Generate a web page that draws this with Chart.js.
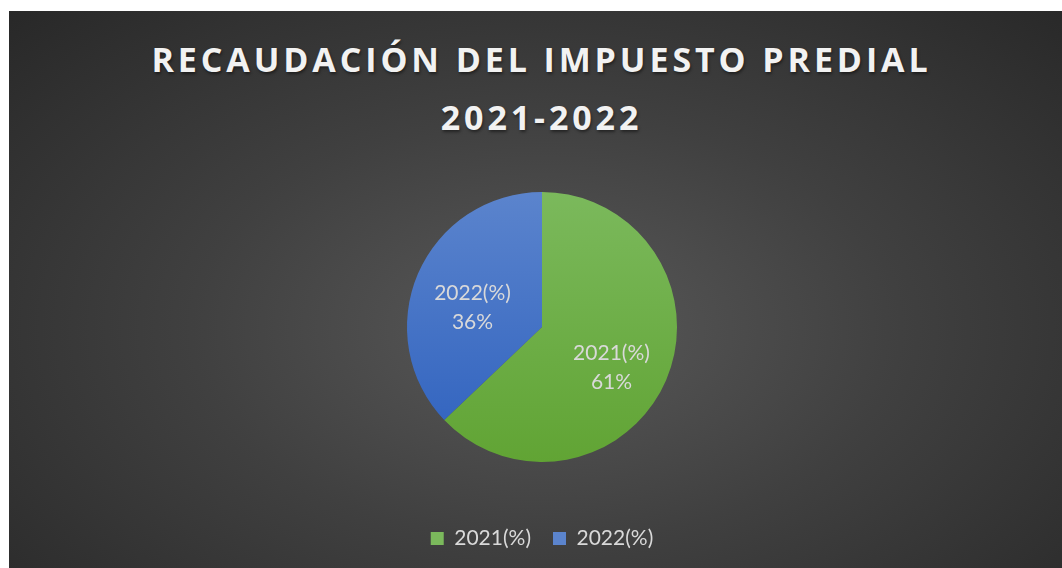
<!DOCTYPE html>
<html>
<head>
<meta charset="utf-8">
<script src="https://cdn.jsdelivr.net/npm/chart.js@4"></script>
<style>
    html, body { margin: 0; padding: 0; background: #ffffff; }
    #frame {
        position: absolute; left: 9px; top: 11px; width: 1053px; height: 557px;
        background: radial-gradient(ellipse 75% 85% at 51% 57%, #595959 0%, #404040 45%, #262626 100%);
        overflow: hidden;
    }
    #title {
        position: absolute; left: 12px; right: 0; top: 19px;
        text-align: center; color: #f2f2f2;
        font: bold 34px "Open Sans", sans-serif; letter-spacing: 3.9px; line-height: 58px;
        text-shadow: 1px 2px 3px rgba(0,0,0,0.45);
    }
    #wrap { position: absolute; left: 0; top: 0; width: 1053px; height: 557px; }
</style>
</head>
<body>
<div id="frame">
    <div id="title">RECAUDACIÓN DEL IMPUESTO PREDIAL<br>2021-2022</div>
    <div id="wrap"><canvas id="pieChart"></canvas></div>
</div>
<script>
// Dữ liệu của biểu đồ
const labels = ['2021(%)', '2022(%)'];
const values = [61, 36];
const colorsTop = ['#7bb95c', '#5b84cd'];
const colorsBottom = ['#61a434', '#2e61be'];

// Tô màu chuyển dần từ trên xuống dưới cho từng lát (theo vùng vẽ)
function sliceFill(ctx) {
    const chart = ctx.chart;
    const i = ctx.dataIndex;
    const area = chart.chartArea;
    if (!area) return colorsTop[i];
    const cy = (area.top + area.bottom) / 2;
    const r = Math.min(area.right - area.left, area.bottom - area.top) / 2;
    const g = chart.ctx.createLinearGradient(0, cy - r, 0, cy + r);
    g.addColorStop(0, colorsTop[i]);
    g.addColorStop(1, colorsBottom[i]);
    return g;
}

// Nhãn trong lát: tên + phần trăm
const sliceLabels = {
    id: 'sliceLabels',
    afterDatasetsDraw(chart) {
        const c = chart.ctx;
        const meta = chart.getDatasetMeta(0);
        c.save();
        c.fillStyle = '#d9d9d9';
        c.font = '21px Lato, sans-serif';
        c.textAlign = 'center';
        c.textBaseline = 'middle';
        meta.data.forEach((arc, i) => {
            const p = arc.getProps(['startAngle', 'endAngle', 'outerRadius', 'x', 'y'], true);
            const mid = (p.startAngle + p.endAngle) / 2;
            const r = p.outerRadius * 0.56;
            const x = p.x + Math.cos(mid) * r;
            const y = p.y + Math.sin(mid) * r + 10;
            c.fillText(labels[i], x, y - 14);
            c.fillText(values[i] + '%', x, y + 15);
        });
        c.restore();
    }
};

new Chart(document.getElementById('pieChart'), {
    type: 'pie',
    data: {
        labels: labels,
        datasets: [{
            data: values,
            backgroundColor: sliceFill,
            borderWidth: 0
        }]
    },
    options: {
        responsive: true,
        maintainAspectRatio: false,
        animation: false,
        layout: { padding: { top: 137, bottom: 9, left: 398, right: 385 } },
        plugins: {
            legend: {
                position: 'bottom',
                labels: {
                    color: '#d9d9d9',
                    font: { family: 'Lato, sans-serif', size: 21 },
                    boxWidth: 13, boxHeight: 13,
                    padding: 22,
                    generateLabels(chart) {
                        return labels.map((t, i) => ({
                            text: t,
                            fillStyle: colorsTop[i],
                            strokeStyle: colorsTop[i],
                            lineWidth: 0,
                            fontColor: '#d9d9d9',
                            index: i
                        }));
                    }
                }
            },
            tooltip: { enabled: false }
        }
    },
    plugins: [sliceLabels]
});
</script>
</body>
</html>
